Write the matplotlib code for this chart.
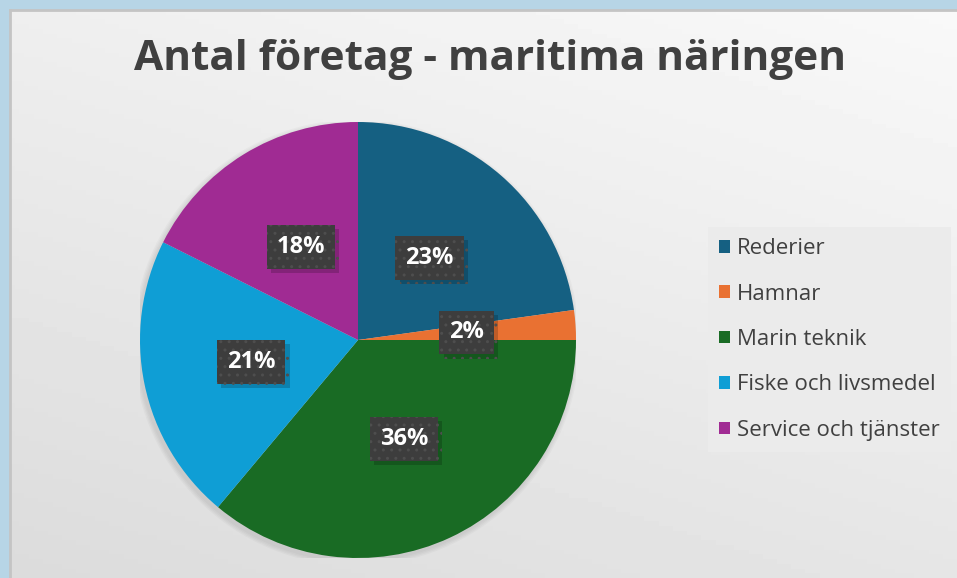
import numpy as np
import matplotlib
matplotlib.use('Agg')
import matplotlib.pyplot as plt
from matplotlib.patches import Patch, Circle
import matplotlib.patheffects as pe

# data (percent of companies)
categories = ['Rederier', 'Hamnar', 'Marin teknik', 'Fiske och livsmedel', 'Service och tjänster']
shares = [22.8, 2.2, 36.1, 21.3, 17.6]
colors = ['#156082', '#E97132', '#196B24', '#0F9ED5', '#A02B93']
title = 'Antal företag - maritima näringen'

plt.rcParams['font.family'] = ['Open Sans', 'DejaVu Sans']
plt.rcParams['hatch.linewidth'] = 1.0

W, H = 957, 578
fig = plt.figure(figsize=(W / 100, H / 100), dpi=100)
fig.patch.set_facecolor('#b7d5e6')

# chart panel with a soft grey gradient
bg = fig.add_axes([10 / W, 0, (W - 10) / W, (H - 10) / H])
xx, yy = np.meshgrid(np.linspace(0, 1, 200), np.linspace(1, 0, 120))
grad = 0.86 + 0.115 * (0.35 * xx + 0.65 * yy)
bg.imshow(grad, cmap='gray', vmin=0, vmax=1, aspect='auto', extent=(0, 1, 0, 1))
bg.set_xlim(0, 1)
bg.set_ylim(0, 1)
for s in ['right', 'bottom']:
    bg.spines[s].set_visible(False)
for s in ['left', 'top']:
    bg.spines[s].set_color('#c4c4c4')
    bg.spines[s].set_linewidth(2)
bg.set_xticks([])
bg.set_yticks([])

# pie
cx, cy, r = 358, 340, 218
ax = fig.add_axes([(cx - r) / W, (H - cy - r) / H, 2 * r / W, 2 * r / H])
for k in range(4):
    ax.add_patch(Circle((-0.008, -0.012), 1.0 + 0.006 * (k + 1), color='k',
                        alpha=0.025, zorder=0, lw=0))
wedges, _ = ax.pie(shares, colors=colors, startangle=90, counterclock=False,
                   radius=1, wedgeprops=dict(linewidth=0))
ax.set_xlim(-1, 1)
ax.set_ylim(-1, 1)
ax.axis('off')

# percentage labels in dark boxes
for w, v in zip(wedges, shares):
    mid = np.deg2rad((w.theta1 + w.theta2) / 2)
    x, y = 0.5 * np.cos(mid), 0.5 * np.sin(mid)
    t = ax.text(x, y, f'{v:.0f}%', ha='center', va='center', color='white',
                fontsize=17, fontweight='bold',
                bbox=dict(boxstyle='square,pad=0.42', fc='#3d3d3d', ec='#4e4e4e',
                          lw=0, hatch='..'))
    t.get_bbox_patch().set_path_effects([
        pe.SimplePatchShadow(offset=(3, -3), shadow_rgbFace='k', alpha=0.18),
        pe.Normal()])

fig.text(490 / W, 1 - 59 / H, title, ha='center', va='center',
         fontsize=30.5, fontweight='bold', color='#404040')

handles = [Patch(facecolor=c, edgecolor='none') for c in colors]
leg = fig.legend(handles, categories, loc='upper left',
                 bbox_to_anchor=(708 / W, 1 - 227 / H), frameon=True,
                 fontsize=16, labelcolor='#404040', handlelength=0.5,
                 handleheight=0.5, handletextpad=0.3, labelspacing=1.1,
                 borderpad=0.5, borderaxespad=0, fancybox=False)
leg.get_frame().set_facecolor('#ebebeb')
leg.get_frame().set_edgecolor('none')
leg.get_frame().set_alpha(1)

fig.savefig('out.png', dpi=100, facecolor=fig.get_facecolor())
